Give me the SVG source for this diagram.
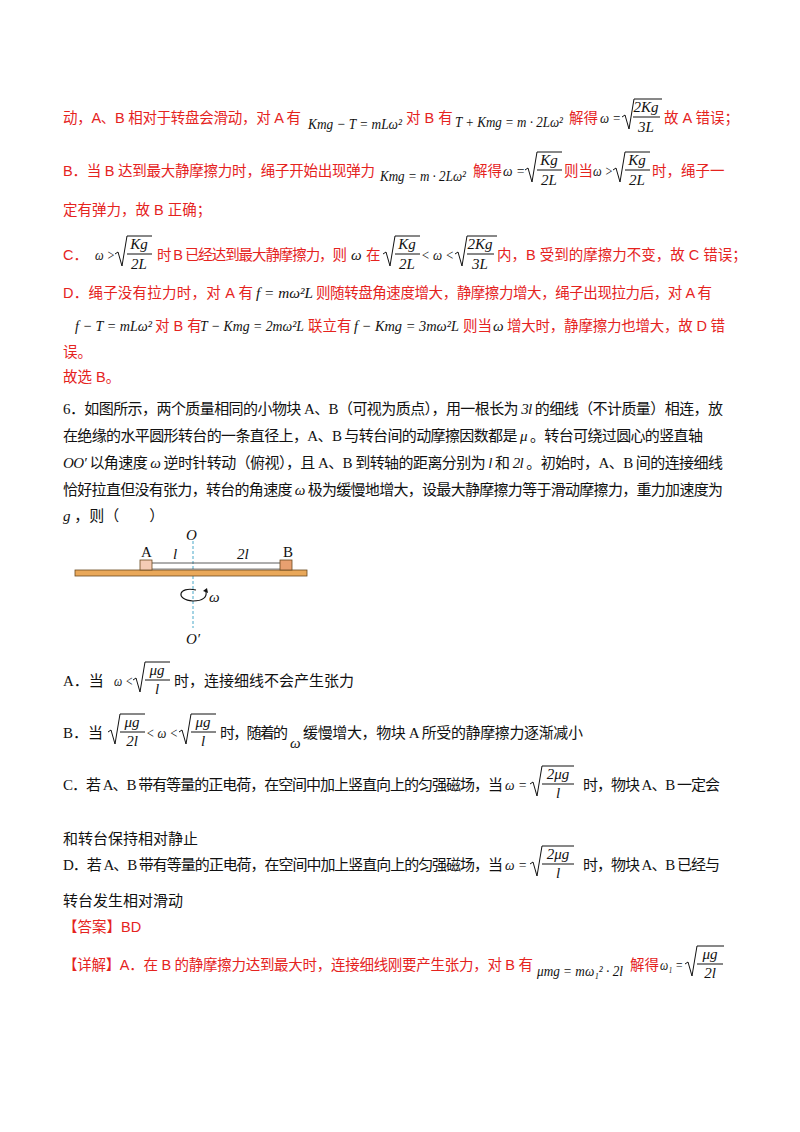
<svg xmlns="http://www.w3.org/2000/svg" width="800" height="1132" viewBox="0 0 800 1132">
<style>
text{font-family:"Liberation Serif","Noto Sans CJK SC",serif;font-size:15px}
.r{fill:#e5231e;font-family:"Liberation Sans","Noto Sans CJK SC",sans-serif;font-size:14.5px}
.k{fill:#111}
.m{font-family:"Liberation Serif",serif;font-style:italic;font-size:15px}
.rm{fill:#111;font-family:"Liberation Serif",serif;font-style:italic;font-size:15px}
.s{fill:none;stroke-width:1;stroke:#111}
</style>
<rect width="800" height="1132" fill="#fff"/>
<g id="text-red">
<text class="r" x="63" y="123" textLength="238" lengthAdjust="spacing">动，A、B 相对于转盘会滑动，对 A 有</text>
<text class="rm" x="308" y="129" textLength="94" lengthAdjust="spacingAndGlyphs">Kmg − T = mLω²</text>
<text class="r" x="406" y="123">对 B 有</text>
<text class="rm" x="455" y="127" textLength="108" lengthAdjust="spacingAndGlyphs">T + Kmg = m · 2Lω²</text>
<text class="r" x="569" y="123">解得</text>
<text class="rm" x="600" y="123" textLength="21" lengthAdjust="spacingAndGlyphs">ω =</text>
<path class="s" d="M622,117 l3,-2 l4,14 l5,-30 h28"/>
<text class="rm" x="646" y="112" text-anchor="middle">2Kg</text><line class="s" x1="633" y1="117" x2="660" y2="117"/><text class="rm" x="646" y="132" text-anchor="middle">3L</text>
<text class="r" x="664" y="123">故 A 错误；</text>

<text class="r" x="63" y="176" textLength="312" lengthAdjust="spacing">B．当 B 达到最大静摩擦力时，绳子开始出现弹力</text>
<text class="rm" x="380" y="181" textLength="86" lengthAdjust="spacingAndGlyphs">Kmg = m · 2Lω²</text>
<text class="r" x="473" y="176">解得</text>
<text class="rm" x="503" y="176" textLength="22" lengthAdjust="spacingAndGlyphs">ω =</text>
<path class="s" d="M525,170 l3,-2 l4,14 l5,-30 h25"/>
<text class="rm" x="549" y="165" text-anchor="middle">Kg</text><line class="s" x1="537" y1="170" x2="562" y2="170"/><text class="rm" x="549" y="185" text-anchor="middle">2L</text>
<text class="r" x="564" y="176">则当</text>
<text class="rm" x="593" y="176" textLength="20" lengthAdjust="spacingAndGlyphs">ω &gt;</text>
<path class="s" d="M613,170 l3,-2 l4,14 l5,-30 h25"/>
<text class="rm" x="637" y="165" text-anchor="middle">Kg</text><line class="s" x1="625" y1="170" x2="650" y2="170"/><text class="rm" x="637" y="185" text-anchor="middle">2L</text>
<text class="r" x="652" y="176">时，绳子一</text>
<text class="r" x="63" y="215">定有弹力，故 B 正确；</text>

<text class="r" x="63" y="260">C．</text>
<text class="rm" x="95" y="260" textLength="20" lengthAdjust="spacingAndGlyphs">ω &gt;</text>
<path class="s" d="M115,254 l3,-2 l4,14 l5,-30 h25"/>
<text class="rm" x="139" y="249" text-anchor="middle">Kg</text><line class="s" x1="127" y1="254" x2="152" y2="254"/><text class="rm" x="139" y="269" text-anchor="middle">2L</text>
<text class="r" x="157" y="260" textLength="190" lengthAdjust="spacing">时 B 已经达到最大静摩擦力，则</text>
<text class="rm" x="351" y="260">ω</text>
<text class="r" x="366" y="260">在</text>
<path class="s" d="M383,254 l3,-2 l4,14 l5,-30 h25"/>
<text class="rm" x="407" y="249" text-anchor="middle">Kg</text><line class="s" x1="395" y1="254" x2="420" y2="254"/><text class="rm" x="407" y="269" text-anchor="middle">2L</text>
<text class="rm" x="421" y="260" textLength="33" lengthAdjust="spacingAndGlyphs">&lt; ω &lt;</text>
<path class="s" d="M455,254 l3,-2 l4,14 l5,-30 h30"/>
<text class="rm" x="480" y="249" text-anchor="middle">2Kg</text><line class="s" x1="467" y1="254" x2="494" y2="254"/><text class="rm" x="480" y="269" text-anchor="middle">3L</text>
<text class="r" x="497" y="260">内，B 受到的摩擦力不变，故 C 错误；</text>

<text class="r" x="63" y="298" textLength="190" lengthAdjust="spacing">D．绳子没有拉力时，对 A 有</text>
<text class="rm" x="256" y="298" textLength="57" lengthAdjust="spacingAndGlyphs">f = mω²L</text>
<text class="r" x="316" y="298" textLength="396" lengthAdjust="spacing">则随转盘角速度增大，静摩擦力增大，绳子出现拉力后，对 A 有</text>
<text class="rm" x="75" y="331" textLength="77" lengthAdjust="spacingAndGlyphs">f − T = mLω²</text>
<text class="r" x="155" y="331">对 B 有</text>
<text class="rm" x="200" y="331" textLength="104" lengthAdjust="spacingAndGlyphs">T − Kmg = 2mω²L</text>
<text class="r" x="308" y="331">联立有</text>
<text class="rm" x="354" y="331" textLength="105" lengthAdjust="spacingAndGlyphs">f − Kmg = 3mω²L</text>
<text class="r" x="463" y="331">则当</text>
<text class="rm" x="493" y="331">ω</text>
<text class="r" x="507" y="331" textLength="218" lengthAdjust="spacing">增大时，静摩擦力也增大，故 D 错</text>
<text class="r" x="63" y="357">误。</text>
<text class="r" x="63" y="382">故选 B。</text>
</g>
<g id="question">
<text class="k" x="63" y="414" textLength="660" lengthAdjust="spacing">6．如图所示，两个质量相同的小物块 A、B（可视为质点），用一根长为 <tspan class="m">3l</tspan> 的细线（不计质量）相连，放</text>
<text class="k" x="63" y="441" textLength="640" lengthAdjust="spacing">在绝缘的水平圆形转台的一条直径上，A、B 与转台间的动摩擦因数都是 <tspan class="m">μ</tspan> 。转台可绕过圆心的竖直轴</text>
<text class="k" x="63" y="468" textLength="660" lengthAdjust="spacing"><tspan class="m">OO′</tspan> 以角速度 <tspan class="m">ω</tspan> 逆时针转动（俯视），且 A、B 到转轴的距离分别为 <tspan class="m">l</tspan> 和 <tspan class="m">2l</tspan> 。初始时，A、B 间的连接细线</text>
<text class="k" x="63" y="495" textLength="660" lengthAdjust="spacing">恰好拉直但没有张力，转台的角速度 <tspan class="m">ω</tspan> 极为缓慢地增大，设最大静摩擦力等于滑动摩擦力，重力加速度为</text>
<text class="k" x="63" y="521"><tspan class="m">g</tspan> ，则（　　）</text>
</g>
<g id="figure">
<line x1="193" y1="541" x2="193" y2="628" stroke="#4aa8c8" stroke-dasharray="3,2" stroke-width="1"/>
<rect x="75" y="570" width="232" height="6" fill="#e9a85a" stroke="#6b4a20" stroke-width="0.8"/>
<line x1="152" y1="563" x2="280" y2="563" stroke="#333" stroke-width="0.8"/>
<line x1="152" y1="569" x2="280" y2="569" stroke="#333" stroke-width="0.6"/>
<rect x="140" y="560" width="12" height="10" fill="#f5cbb5" stroke="#6b4a20" stroke-width="0.8"/>
<rect x="280" y="560" width="12" height="10" fill="#e8a070" stroke="#6b4a20" stroke-width="0.8"/>
<text class="k" x="141" y="557" font-size="15">A</text>
<text class="k" x="283" y="557" font-size="15">B</text>
<text class="k m" x="173" y="559">l</text>
<text class="k m" x="237" y="559">2l</text>
<text class="k m" x="186" y="540">O</text>
<text class="k m" x="186" y="644">O′</text>
<path d="M196,590 C178,586 175,600 193,601 C203,601 207,597 206,592" fill="none" stroke="#111" stroke-width="1.1"/>
<path d="M203,591 l4,-3 l1,5 z" fill="#111"/>
<text class="k m" x="209" y="602">ω</text>
</g>
<g id="options">
<text class="k" x="63" y="686">A．当</text>
<text class="rm" x="114" y="686" textLength="19" lengthAdjust="spacingAndGlyphs">ω &lt;</text>
<path class="s" d="M133,680 l3,-2 l4,14 l5,-30 h25"/>
<text class="rm" x="157" y="675" text-anchor="middle">μg</text><line class="s" x1="145" y1="680" x2="170" y2="680"/><text class="rm" x="157" y="694" text-anchor="middle">l</text>
<text class="k" x="174" y="686" textLength="180" lengthAdjust="spacing">时，连接细线不会产生张力</text>

<text class="k" x="63" y="738">B．当</text>
<path class="s" d="M108,732 l3,-2 l4,14 l5,-30 h25"/>
<text class="rm" x="132" y="727" text-anchor="middle">μg</text><line class="s" x1="120" y1="732" x2="145" y2="732"/><text class="rm" x="132" y="746" text-anchor="middle">2l</text>
<text class="rm" x="146" y="738" textLength="32" lengthAdjust="spacingAndGlyphs">&lt; ω &lt;</text>
<path class="s" d="M179,732 l3,-2 l4,14 l5,-30 h25"/>
<text class="rm" x="203" y="727" text-anchor="middle">μg</text><line class="s" x1="191" y1="732" x2="216" y2="732"/><text class="rm" x="203" y="746" text-anchor="middle">l</text>
<text class="k" x="220" y="738" textLength="68" lengthAdjust="spacing">时，随着的</text>
<text class="rm" x="290" y="748">ω</text>
<text class="k" x="303" y="738" textLength="280" lengthAdjust="spacing">缓慢增大，物块 A 所受的静摩擦力逐渐减小</text>

<text class="k" x="63" y="790" textLength="440" lengthAdjust="spacing">C．若 A、B 带有等量的正电荷，在空间中加上竖直向上的匀强磁场，当</text>
<text class="rm" x="505" y="790" textLength="22" lengthAdjust="spacingAndGlyphs">ω =</text>
<path class="s" d="M530,784 l3,-2 l4,14 l5,-30 h32"/>
<text class="rm" x="558" y="779" text-anchor="middle">2μg</text><line class="s" x1="542" y1="784" x2="574" y2="784"/><text class="rm" x="558" y="798" text-anchor="middle">l</text>
<text class="k" x="583" y="790" textLength="137" lengthAdjust="spacing">时，物块 A、B 一定会</text>
<text class="k" x="63" y="844">和转台保持相对静止</text>

<text class="k" x="63" y="870" textLength="440" lengthAdjust="spacing">D．若 A、B 带有等量的正电荷，在空间中加上竖直向上的匀强磁场，当</text>
<text class="rm" x="505" y="870" textLength="22" lengthAdjust="spacingAndGlyphs">ω =</text>
<path class="s" d="M530,864 l3,-2 l4,14 l5,-30 h32"/>
<text class="rm" x="558" y="859" text-anchor="middle">2μg</text><line class="s" x1="542" y1="864" x2="574" y2="864"/><text class="rm" x="558" y="878" text-anchor="middle">l</text>
<text class="k" x="583" y="870" textLength="137" lengthAdjust="spacing">时，物块 A、B 已经与</text>
<text class="k" x="63" y="906">转台发生相对滑动</text>
</g>
<g id="answer">
<text class="r" x="63" y="932">【答案】BD</text>
<text class="r" x="63" y="970" textLength="470" lengthAdjust="spacing">【详解】A．在 B 的静摩擦力达到最大时，连接细线刚要产生张力，对 B 有</text>
<text class="rm" x="537" y="976" textLength="86" lengthAdjust="spacingAndGlyphs">μmg = mω₁² · 2l</text>
<text class="r" x="630" y="970">解得</text>
<text class="rm" x="660" y="970" textLength="23" lengthAdjust="spacingAndGlyphs">ω₁ =</text>
<path class="s" d="M685,964 l3,-2 l4,14 l5,-30 h27"/>
<text class="rm" x="710" y="959" text-anchor="middle">μg</text><line class="s" x1="697" y1="964" x2="723" y2="964"/><text class="rm" x="710" y="978" text-anchor="middle">2l</text>
</g>
</svg>
